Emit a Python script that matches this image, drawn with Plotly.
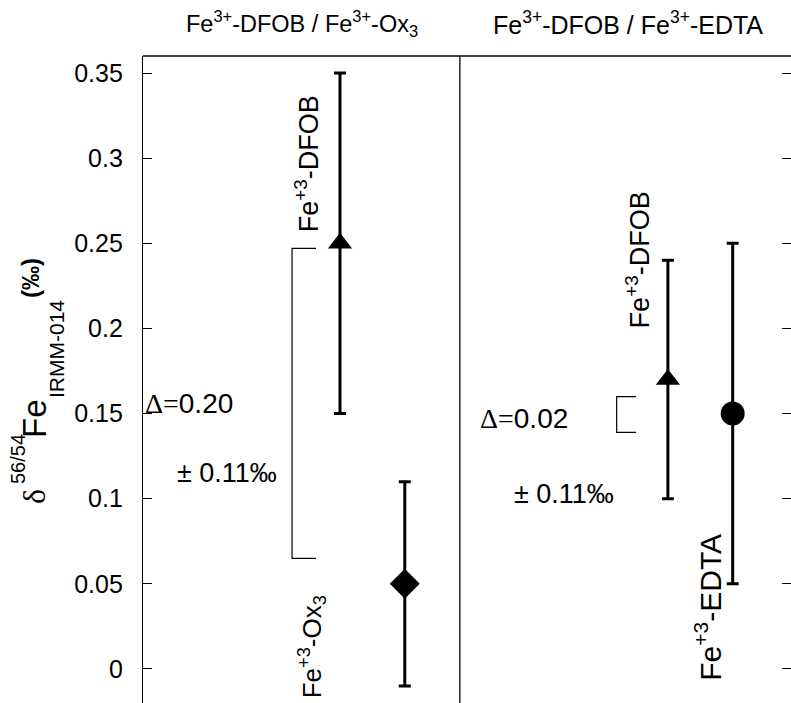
import plotly.graph_objects as go

# Fe isotope composition of the complexes, two exchange experiments
panel_titles = ["Fe<sup>3+</sup>-DFOB / Fe<sup>3+</sup>-Ox<sub>3</sub>",
                "Fe<sup>3+</sup>-DFOB / Fe<sup>3+</sup>-EDTA"]
species = ["Fe<sup>+3</sup>-DFOB", "Fe<sup>+3</sup>-Ox<sub>3</sub>",
           "Fe<sup>+3</sup>-DFOB", "Fe<sup>+3</sup>-EDTA"]
delta_mean = [0.25, 0.05, 0.17, 0.15]
delta_err = [0.10, 0.06, 0.07, 0.10]
marker_kind = ["triangle-up", "diamond", "triangle-up", "circle"]
bracket_lo = [0.065, 0.139]
bracket_hi = [0.247, 0.160]
reproducibility = [0.11, 0.11]
y_ticks = [0, 0.05, 0.1, 0.15, 0.2, 0.25, 0.3, 0.35]
y_tick_text = ["0", "0.05", "0.1", "0.15", "0.2", "0.25", "0.3", "0.35"]
y_title_parts = ["\u03b4", "56/54", "Fe", "IRMM-014", "<b>(\u2030)</b>"]

# page geometry (pixels)
W, H = 791, 703
ML, MT = 143, 56
PW, PH = W - ML, H - MT

# layout helpers (horizontal coordinate 0..10 across the plot area)
x_pos = [3.04, 4.04, 8.10, 9.10]
marker_size = [21, 23, 21, 24]
x_divider = 4.89
bracket_x = [(2.30, 2.67), (7.31, 7.61)]
species_label_pos = [(2.53, 0.297), (2.60, 0.013), (7.64, 0.240), (8.72, 0.036)]
species_font = [27, 26, 27, 30]
delta_label_pos = [(0.0, 0.156), (5.17, 0.147)]
pm_label_pos = [(0.49, 0.115), (5.69, 0.103)]
title_px = [(302, 23), (628, 23)]
title_font = [23.5, 25]
# y-title pieces: centre (px), size, family
y_title_layout = [((34, 497), 32, "serif"), ((18, 459), 20, "sans"),
                  ((34, 419), 33, "sans"), ((57, 349), 21, "sans"),
                  ((30, 278), 24, "sans")]

SANS = "Liberation Sans, Arial, sans-serif"
SERIF = "Liberation Serif, Times New Roman, serif"


def px_to_paper(px, py):
    return (px - ML) / PW, (H - py) / PH


fig = go.Figure()

for i in range(len(delta_mean)):
    fig.add_trace(go.Scatter(
        x=[x_pos[i]], y=[delta_mean[i]], mode="markers",
        marker=dict(symbol=marker_kind[i], size=marker_size[i], color="black"),
        error_y=dict(type="data", array=[delta_err[i]], color="black",
                     thickness=3, width=6),
        showlegend=False, hoverinfo="skip"))

# brackets spanning the isotopic offset between the pairs
for k in range(2):
    x0, x1 = bracket_x[k]
    fig.add_trace(go.Scatter(
        x=[x1, x0, x0, x1], y=[bracket_hi[k], bracket_hi[k], bracket_lo[k], bracket_lo[k]],
        mode="lines", line=dict(color="black", width=1.2),
        showlegend=False, hoverinfo="skip"))

annotations = []
for i, lab in enumerate(species):
    lx, ly = species_label_pos[i]
    annotations.append(dict(x=lx, y=ly, xref="x", yref="y", text=lab, showarrow=False,
                            textangle=-90,
                            font=dict(family=SANS, size=species_font[i], color="black"),
                            xanchor="center", yanchor="middle"))

pairs = [(0, 1), (2, 3)]
for k, (a, b) in enumerate(pairs):
    diff = abs(delta_mean[a] - delta_mean[b])
    dx, dy = delta_label_pos[k]
    annotations.append(dict(
        x=dx, y=dy, xref="x", yref="y", showarrow=False, xanchor="left", yanchor="middle",
        text=f"<span style='font-family:{SERIF}'>\u0394=</span>{diff:.2f}",
        font=dict(family=SANS, size=28, color="black")))
    px, py = pm_label_pos[k]
    annotations.append(dict(
        x=px, y=py, xref="x", yref="y", showarrow=False, xanchor="left", yanchor="middle",
        text=f"\u00b1 {reproducibility[k]:.2f}\u2030",
        font=dict(family=SANS, size=27, color="black")))

for k, t in enumerate(panel_titles):
    tx, ty = px_to_paper(*title_px[k])
    annotations.append(dict(x=tx, y=ty, xref="paper", yref="paper",
                            text=t, showarrow=False, xanchor="center", yanchor="middle",
                            font=dict(family=SANS, size=title_font[k], color="black")))

# y-axis title, assembled piece by piece
for part, ((cx, cy), size, fam) in zip(y_title_parts, y_title_layout):
    ax, ay = px_to_paper(cx, cy)
    annotations.append(dict(
        x=ax, y=ay, xref="paper", yref="paper", showarrow=False, textangle=-90,
        xanchor="center", yanchor="middle", text=part,
        font=dict(family=SERIF if fam == "serif" else SANS, size=size, color="black")))

fig.update_layout(
    width=W, height=H,
    margin=dict(l=ML, r=0, t=MT, b=0),
    plot_bgcolor="white", paper_bgcolor="white",
    xaxis=dict(range=[0, 10], showgrid=False, zeroline=False, showticklabels=False,
               ticks="", showline=False, fixedrange=True),
    yaxis=dict(range=[-0.02, 0.36], tickvals=y_ticks, ticktext=y_tick_text,
               ticks="inside", ticklen=9, tickwidth=1, tickcolor="black",
               showline=True, linecolor="black", linewidth=1.3, mirror="ticks",
               showgrid=False, zeroline=False, ticklabelstandoff=14,
               tickfont=dict(family=SANS, size=25, color="black")),
    shapes=[
        dict(type="line", xref="x", yref="paper", x0=x_divider, x1=x_divider, y0=0, y1=1,
             line=dict(color="black", width=1.3)),
        dict(type="line", xref="paper", yref="paper", x0=0, x1=1, y0=1, y1=1,
             line=dict(color="black", width=1.3)),
    ],
    annotations=annotations,
)

fig.write_html("out.html")
